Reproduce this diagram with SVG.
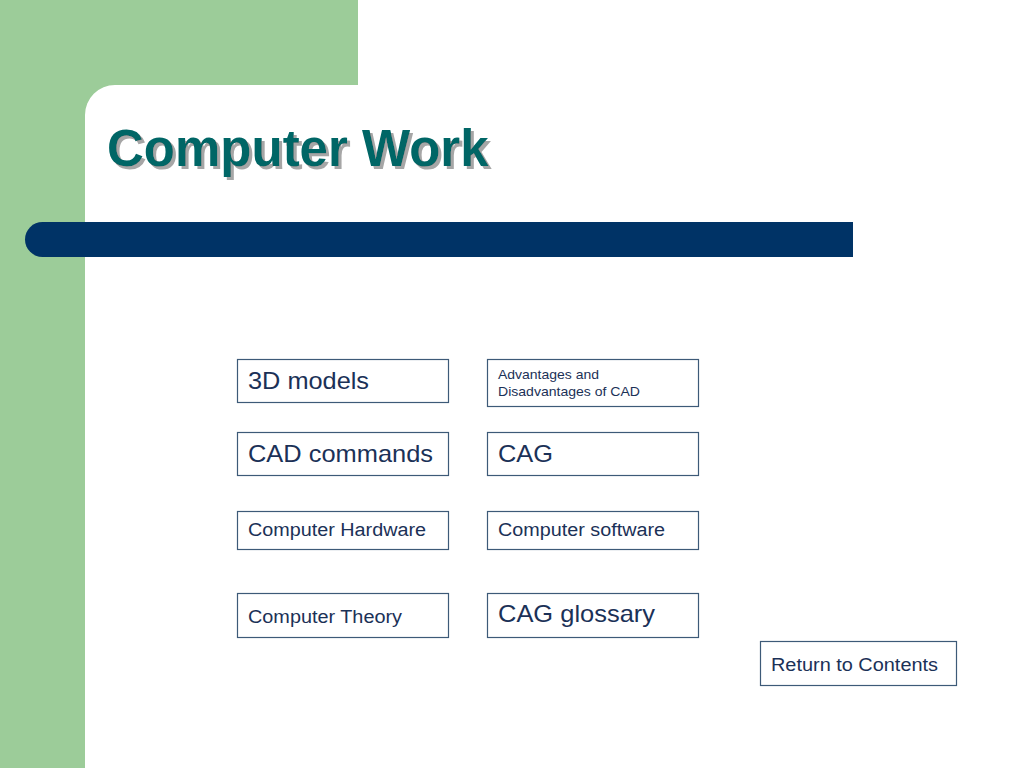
<svg xmlns="http://www.w3.org/2000/svg" width="1024" height="768" viewBox="0 0 1024 768">
<defs>
<filter id="shadow" x="-5%" y="-20%" width="115%" height="150%">
<feDropShadow dx="3" dy="3" stdDeviation="0.6" flood-color="#a6a6a6" flood-opacity="1"/>
</filter>
</defs>
<style>
.box{fill:#ffffff;stroke:#3d5a78;stroke-width:1.2}
.t{font-family:"Liberation Sans",Arial,sans-serif;fill:#1b3157}
.n{font-family:"Liberation Sans Narrow","Liberation Sans",Arial,sans-serif;fill:#1b3157}
</style>
<rect x="0" y="0" width="1024" height="768" fill="#ffffff"/>
<g id="background">
<rect x="0" y="0" width="358" height="85" fill="#9ccc99"/>
<rect x="0" y="0" width="85" height="768" fill="#9ccc99"/>
<path d="M85 85 H115 A30 30 0 0 0 85 115 Z" fill="#9ccc99"/>
<path d="M42.5 222 H853 V257 H42.5 A17.5 17.5 0 0 1 42.5 222 Z" fill="#003366"/>
</g>
<g id="title">
<text x="107" y="166" font-family="Liberation Sans,Arial,sans-serif" font-weight="bold" font-size="51" fill="#006666" filter="url(#shadow)">Computer Work</text>
</g>
<g id="n1"><rect class="box" x="237.5" y="359.5" width="211" height="43"/><text class="t" x="248" y="389" font-size="24" textLength="121" lengthAdjust="spacingAndGlyphs">3D models</text></g>
<g id="n2"><rect class="box" x="487.5" y="359.5" width="211" height="47"/><text class="t" x="498" y="379" font-size="13.5" textLength="101" lengthAdjust="spacingAndGlyphs">Advantages and</text><text class="t" x="498" y="396" font-size="13.5" textLength="142" lengthAdjust="spacingAndGlyphs">Disadvantages of CAD</text></g>
<g id="n3"><rect class="box" x="237.5" y="432.5" width="211" height="43"/><text class="t" x="248" y="462" font-size="24" textLength="185" lengthAdjust="spacingAndGlyphs">CAD commands</text></g>
<g id="n4"><rect class="box" x="487.5" y="432.5" width="211" height="43"/><text class="t" x="498" y="462" font-size="24" textLength="55" lengthAdjust="spacingAndGlyphs">CAG</text></g>
<g id="n5"><rect class="box" x="237.5" y="511.5" width="211" height="38"/><text class="n" x="248" y="536" font-size="18" textLength="178" lengthAdjust="spacingAndGlyphs">Computer Hardware</text></g>
<g id="n6"><rect class="box" x="487.5" y="511.5" width="211" height="38"/><text class="n" x="498" y="536" font-size="18" textLength="167" lengthAdjust="spacingAndGlyphs">Computer software</text></g>
<g id="n7"><rect class="box" x="237.5" y="593.5" width="211" height="44"/><text class="n" x="248" y="623" font-size="18" textLength="154" lengthAdjust="spacingAndGlyphs">Computer Theory</text></g>
<g id="n8"><rect class="box" x="487.5" y="593.5" width="211" height="44"/><text class="n" x="498" y="622" font-size="24" textLength="157" lengthAdjust="spacingAndGlyphs">CAG glossary</text></g>
<g id="n9"><rect class="box" x="760.5" y="641.5" width="196" height="44"/><text class="n" x="771" y="671" font-size="18" textLength="167" lengthAdjust="spacingAndGlyphs">Return to Contents</text></g>
<g id="connectors"></g>
</svg>
